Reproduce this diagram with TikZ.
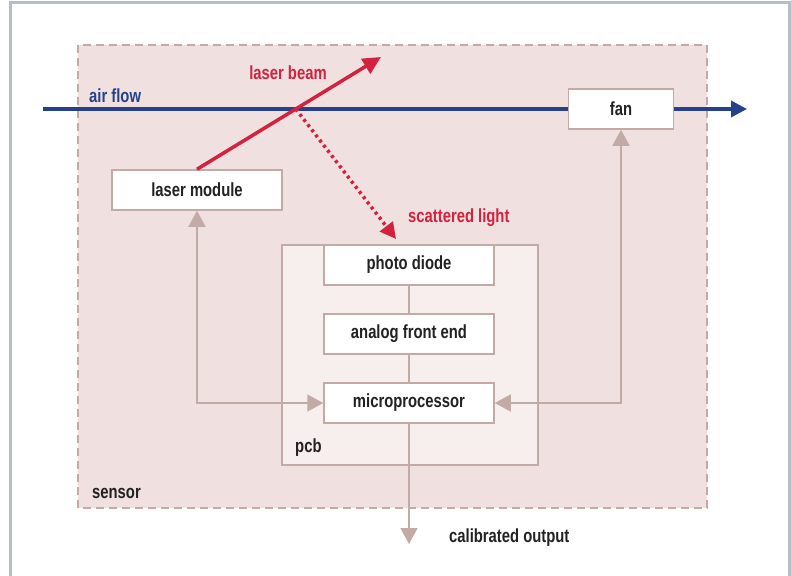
\documentclass[tikz,border=0pt]{standalone}
\usepackage{fontspec}
\setmainfont{Liberation Sans}[FakeStretch=0.78]
\usepackage{xcolor}
\usetikzlibrary{arrows.meta, positioning}
\definecolor{sensorfill}{HTML}{F0E1E0}
\definecolor{pcbfill}{HTML}{F6EFEE}
\definecolor{boxline}{HTML}{C2AAA7}
\definecolor{airblue}{HTML}{26418A}
\definecolor{beamred}{HTML}{D2223E}
\definecolor{framegray}{HTML}{B5BDC5}
\definecolor{textdark}{HTML}{222222}
\tikzset{
  lbl/.style={font=\bfseries\fontsize{19}{21}\selectfont, text=textdark, inner sep=0pt},
  block/.style={lbl, draw=boxline, line width=1.5pt, fill=white,
    minimum width=170pt, minimum height=40pt},
  link/.style={draw=boxline, line width=1.5pt},
  tip/.style={-{Triangle[length=16pt,width=17pt]}},
  twotip/.style={{Triangle[length=16pt,width=17pt]}-{Triangle[length=16pt,width=17pt]}}
}

\begin{document}
\begin{tikzpicture}[x=1pt, y=-1pt]
  \useasboundingbox (0,0) rectangle (791,575);
  % page frame (open at the bottom)
  \draw[framegray, line width=3pt] (10,577) -- (10,3) -- (789,3) -- (789,577);
  % sensor housing
  \fill[sensorfill] (78,45) rectangle (707,508);
  \draw[boxline, line width=1.5pt, dash pattern=on 8pt off 5pt] (78,45) rectangle (707,508);
  \node[lbl, anchor=west] (sensorlbl) at (92,493) {sensor};
  % pcb
  \node[draw=boxline, line width=1.5pt, fill=pcbfill, minimum width=256pt,
    minimum height=220pt] (pcb) at (410,355) {};
  \node[lbl, anchor=west] (pcblbl) at (295,448) {pcb};
  % blocks
  \node[block] (laser) at (197,190) {laser module};
  \node[block, minimum width=105pt] (fan) at (621,109) {};
  \node[lbl] (fanlbl) at (fan) {fan};
  \node[block] (photo) at (409,265) {photo diode};
  \node[block] (afe) at (409,334) {analog front end};
  \node[block] (micro) at (409,403) {microprocessor};
  % pcb internal links
  \draw[link] (photo) -- (afe);
  \draw[link] (afe) -- (micro);
  % control links
  \draw[link, twotip] (laser.south) |- (micro.west);
  \draw[link, twotip] (fan.south) |- (micro.east);
  % output
  \coordinate (out) at (409,544);
  \draw[link, tip] (micro.south) -- (out);
  \node[lbl, anchor=west] (outlbl) at (449,538) {calibrated output};
  % air flow
  \coordinate (airin) at (43,109);
  \coordinate (airout) at (747,109);
  \draw[airblue, line width=3.5pt] (airin) -- (fan.west);
  \draw[airblue, line width=3.5pt, -{Triangle[length=16pt,width=16pt]}] (fan.east) -- (airout);
  \node[lbl, text=airblue, anchor=west] (airlbl) at (89,96) {air flow};
  % laser beam and scattered light
  \coordinate (beamend) at (381,57);
  \draw[beamred, line width=3.5pt, -{Triangle[length=18pt,width=17pt]}] (laser.north) -- (beamend);
  \node[lbl, text=beamred] (beamlbl) at (288,73) {laser beam};
  \coordinate (hit) at (intersection of laser.north--beamend and airin--airout);
  \coordinate (scatend) at (396,239);
  \draw[beamred, line width=3.5pt, dash pattern=on 3pt off 3.5pt,
    -{Triangle[length=16pt,width=16pt]}] (hit) -- (scatend);
  \node[lbl, text=beamred, anchor=west] (scatlbl) at (408,218) {scattered light};
\end{tikzpicture}
\end{document}
